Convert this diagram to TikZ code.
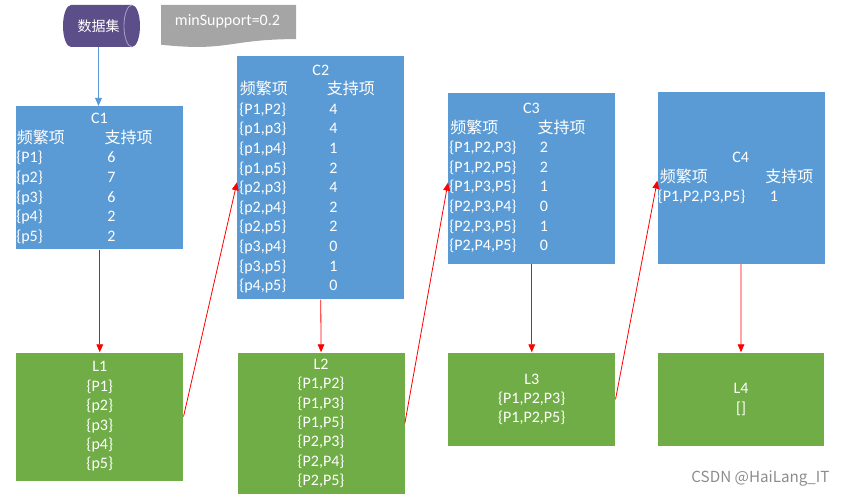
\documentclass[tikz,border=0pt]{standalone}
\usepackage{fontspec}
\setmainfont{Carlito}
\newfontfamily\cjk{Noto Sans CJK SC}
\newfontfamily\wmfont{Noto Sans CJK SC}
\usetikzlibrary{arrows.meta}
\definecolor{boxblue}{HTML}{5B9BD5}
\definecolor{boxgreen}{HTML}{70AD47}
\definecolor{docgray}{HTML}{A5A5A5}
\definecolor{dbpurple}{HTML}{5C4E88}
\definecolor{dbline}{HTML}{A8A1CC}
\definecolor{arrowblue}{HTML}{5B9BD5}
\definecolor{wmgray}{HTML}{8C8C8C}
\begin{document}
\begin{tikzpicture}[x=0.75pt,y=-0.75pt,
  cbox/.style={fill=boxblue, draw=none, inner sep=0, anchor=north west},
  lbox/.style={fill=boxgreen, draw=none, inner sep=0, anchor=north west, text=white, align=center, font=\fontsize{12}{14.55}\selectfont},
  txt/.style={text=white, inner sep=0, anchor=base west, font=\fontsize{12}{14}\selectfont},
  ttl/.style={text=white, inner sep=0, anchor=base, font=\fontsize{12}{14}\selectfont},
  redarrow/.style={draw=red, line width=0.6pt, -{Triangle[width=5pt,length=6pt]}},
  bluearrow/.style={draw=arrowblue, line width=0.75pt, -{Triangle[width=5pt,length=6pt]}},
]
\path[use as bounding box] (0,0) rectangle (844,498);

% database cylinder
\fill[dbpurple] (71,5) -- (132,5) arc[start angle=90,end angle=-90,x radius=6pt,y radius=15.75pt] -- (71,47) arc[start angle=270,end angle=90,x radius=6pt,y radius=15.75pt] -- cycle;
\draw[dbline, line width=0.6pt] (132,5) arc[start angle=90,end angle=270,x radius=6pt,y radius=15.75pt];
\node[font=\cjk\fontsize{10.5}{12}\selectfont, text=white, minimum height=42*0.75pt, inner sep=0] (db) at (98.5,26) {数据集};

% minSupport document shape
\fill[docgray] (161,5) -- (296,5) -- (296,39.1) .. controls (228.5,39.1) and (228.5,52) .. (161,44.7) -- cycle;
\node[font=\fontsize{12}{14}\selectfont, text=white, inner sep=0] (ms) at (227.5,21.5) {minSupport=0.2};

% C boxes
\node[cbox, minimum width=167*0.75pt, minimum height=143*0.75pt] (C1) at (16,106) {};
\node[cbox, minimum width=167*0.75pt, minimum height=243*0.75pt] (C2) at (237,56) {};
\node[cbox, minimum width=167*0.75pt, minimum height=171*0.75pt] (C3) at (448,92.3) {};
\node[cbox, minimum width=167*0.75pt, minimum height=171.3*0.75pt] (C4) at (657.3,92) {};

% L boxes
\node[lbox, minimum width=167*0.75pt, minimum height=128*0.75pt] (L1) at (16,352.3) {L1\\\{P1\}\\\{p2\}\\\{p3\}\\\{p4\}\\\{p5\}};
\node[lbox, minimum width=167*0.75pt, minimum height=141.7*0.75pt] (L2) at (237.3,352.3) {L2\\\{P1,P2\}\\\{P1,P3\}\\\{P1,P5\}\\\{P2,P3\}\\\{P2,P4\}\\\{P2,P5\}};
\node[lbox, minimum width=167*0.75pt, minimum height=93.7*0.75pt] (L3) at (448,352.3) {L3\\\{P1,P2,P3\}\\\{P1,P2,P5\}};
\node[lbox, minimum width=166.5*0.75pt, minimum height=93.7*0.75pt] (L4) at (657.5,352.3) {L4\\{[]}};

% C1 text
\node[ttl] (C1-t) at (99.5,123.5) {C1};
\node[txt] (C1-h1) at (16.5,143.2) {\cjk 频繁项};
\node[txt] (C1-h2) at (104.3,143.2) {\cjk 支持项};
\foreach \lab/\num [count=\i] in {\{P1\}/6,\{p2\}/7,\{p3\}/6,\{p4\}/2,\{p5\}/2} {
  \node[txt] (C1-a\i) at (16,{143.2+19.7*\i}) {\lab};
  \node[txt] (C1-b\i) at (107,{143.2+19.7*\i}) {\num};
}

% C2 text
\node[ttl] (C2-t) at (320.8,75.2) {C2};
\node[txt] (C2-h1) at (239.5,94.8) {\cjk 频繁项};
\node[txt] (C2-h2) at (326.7,94.8) {\cjk 支持项};
\foreach \lab/\num [count=\i] in {{\{P1,P2\}}/4,{\{p1,p3\}}/4,{\{p1,p4\}}/1,{\{p1,p5\}}/2,{\{p2,p3\}}/4,{\{p2,p4\}}/2,{\{p2,p5\}}/2,{\{p3,p4\}}/0,{\{p3,p5\}}/1,{\{p4,p5\}}/0} {
  \node[txt] (C2-a\i) at (239,{94.8+19.6*\i}) {\lab};
  \node[txt] (C2-b\i) at (329,{94.8+19.6*\i}) {\num};
}

% C3 text
\node[ttl] (C3-t) at (531.5,113.5) {C3};
\node[txt] (C3-h1) at (450,133.1) {\cjk 频繁项};
\node[txt] (C3-h2) at (537.3,133.1) {\cjk 支持项};
\foreach \lab/\num [count=\i] in {{\{P1,P2,P3\}}/2,{\{P1,P2,P5\}}/2,{\{P1,P3,P5\}}/1,{\{P2,P3,P4\}}/0,{\{P2,P3,P5\}}/1,{\{P2,P4,P5\}}/0} {
  \node[txt] (C3-a\i) at (449,{133.1+19.6*\i}) {\lab};
  \node[txt] (C3-b\i) at (539.5,{133.1+19.6*\i}) {\num};
}

% C4 text
\node[ttl] (C4-t) at (740.7,162.5) {C4};
\node[txt] (C4-h1) at (659.5,182.2) {\cjk 频繁项};
\node[txt] (C4-h2) at (765,182.2) {\cjk 支持项};
\node[txt] (C4-a1) at (657.5,201.9) {\{P1,P2,P3,P5\}};
\node[txt] (C4-b1) at (769.5,201.9) {1};

% connectors
\draw[bluearrow] (db.south) -- (db.south |- C1.north);
\draw[redarrow] (C1.south) -- (L1.north);
\draw[redarrow] (C2.south) -- (L2.north);
\draw[redarrow] (C3.south) -- (L3.north);
\draw[redarrow] (C4.south) -- (L4.north);
\draw[redarrow] (L1.east) -- ([yshift=-3.4pt]C2.west);
\draw[redarrow] (L2.east) -- ([yshift=-3.4pt]C3.west);
\draw[redarrow] (L3.east) -- ([yshift=-2pt]C4.west);

% watermark
\node[font=\wmfont\fontsize{11.4}{13}\selectfont, text=wmgray, inner sep=0] (wm) at (760.5,479) {CSDN @HaiLang\_IT};
\end{tikzpicture}
\end{document}
